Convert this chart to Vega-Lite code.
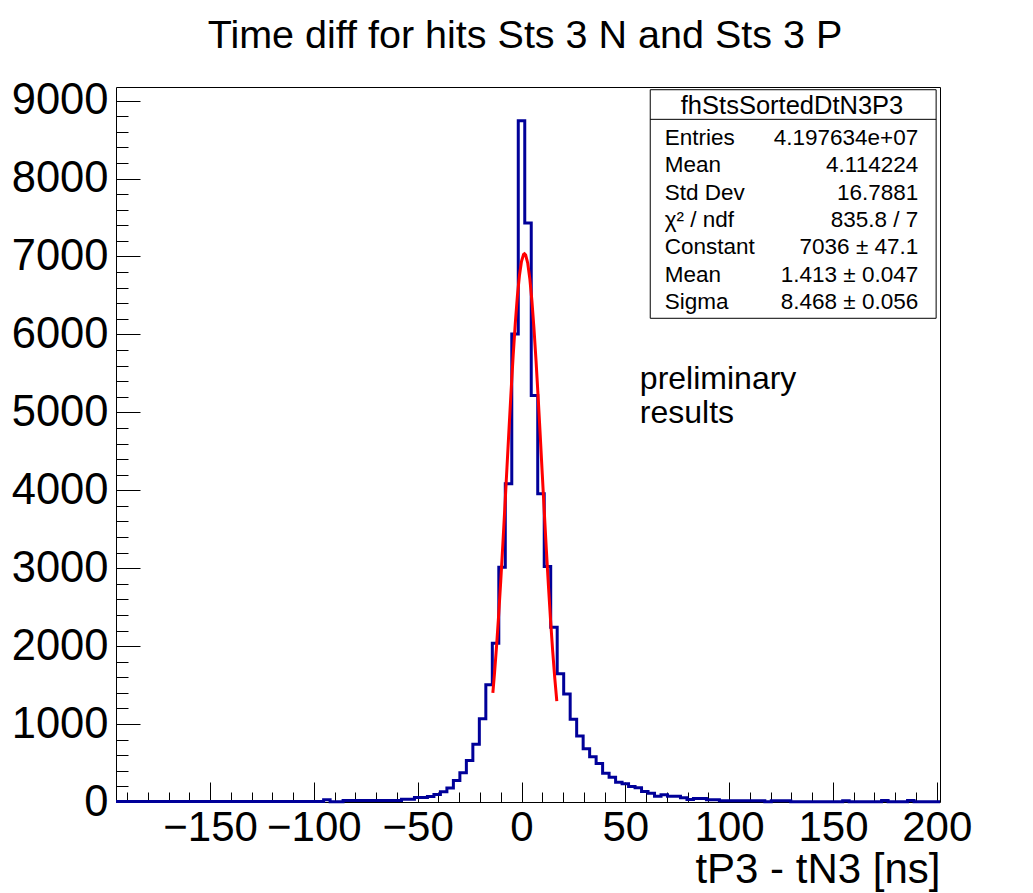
{
  "$schema": "https://vega.github.io/schema/vega-lite/v6.json",
  "width": 824,
  "height": 715,
  "autosize": {"type": "none"},
  "padding": {"left": 116, "top": 87, "right": 93, "bottom": 91},
  "background": "white",
  "config": {
    "view": {"stroke": "black", "strokeWidth": 1},
    "font": "Liberation Sans",
    "axis": {"tickColor": "black", "tickWidth": 1, "labelColor": "black", "labelFont": "Liberation Sans", "domain": false, "grid": false, "labelFlush": false, "labelOverlap": false, "labelBound": false, "titleColor": "black", "titleFont": "Liberation Sans", "titleFontWeight": "normal"},
    "text": {"font": "Liberation Sans", "color": "black"}
  },
  "title": {"text": "Time diff for hits Sts 3 N and Sts 3 P", "fontSize": 39.5, "fontWeight": "normal", "font": "Liberation Sans", "color": "black", "anchor": "middle", "baseline": "alphabetic", "offset": -9, "dx": -3, "frame": "group"},
  "datasets": {
    "hist": [
      {"t": -195.3125, "n": 5}, {"t": -192.1875, "n": 5}, {"t": -189.0625, "n": 5}, {"t": -185.9375, "n": 5},
      {"t": -182.8125, "n": 5}, {"t": -179.6875, "n": 5}, {"t": -176.5625, "n": 5}, {"t": -173.4375, "n": 5},
      {"t": -170.3125, "n": 5}, {"t": -167.1875, "n": 5}, {"t": -164.0625, "n": 5}, {"t": -160.9375, "n": 5},
      {"t": -157.8125, "n": 5}, {"t": -154.6875, "n": 5}, {"t": -151.5625, "n": 5}, {"t": -148.4375, "n": 5},
      {"t": -145.3125, "n": 5}, {"t": -142.1875, "n": 5}, {"t": -139.0625, "n": 5}, {"t": -135.9375, "n": 5},
      {"t": -132.8125, "n": 5}, {"t": -129.6875, "n": 5}, {"t": -126.5625, "n": 5}, {"t": -123.4375, "n": 5},
      {"t": -120.3125, "n": 5}, {"t": -117.1875, "n": 5}, {"t": -114.0625, "n": 5}, {"t": -110.9375, "n": 5},
      {"t": -107.8125, "n": 6}, {"t": -104.6875, "n": 6}, {"t": -101.5625, "n": 6}, {"t": -98.4375, "n": 6},
      {"t": -95.3125, "n": 28}, {"t": -92.1875, "n": 3}, {"t": -89.0625, "n": 3}, {"t": -85.9375, "n": 19},
      {"t": -82.8125, "n": 19}, {"t": -79.6875, "n": 19}, {"t": -76.5625, "n": 19}, {"t": -73.4375, "n": 19},
      {"t": -70.3125, "n": 19}, {"t": -67.1875, "n": 19}, {"t": -64.0625, "n": 19}, {"t": -60.9375, "n": 19},
      {"t": -57.8125, "n": 36}, {"t": -54.6875, "n": 36}, {"t": -51.5625, "n": 58}, {"t": -48.4375, "n": 58},
      {"t": -45.3125, "n": 71}, {"t": -42.1875, "n": 96}, {"t": -39.0625, "n": 132}, {"t": -35.9375, "n": 181},
      {"t": -32.8125, "n": 276}, {"t": -29.6875, "n": 375}, {"t": -26.5625, "n": 532}, {"t": -23.4375, "n": 742},
      {"t": -20.3125, "n": 1067}, {"t": -17.1875, "n": 1504}, {"t": -14.0625, "n": 2037}, {"t": -10.9375, "n": 3013},
      {"t": -7.8125, "n": 4083}, {"t": -4.6875, "n": 6007}, {"t": -1.5625, "n": 8743}, {"t": 1.5625, "n": 7431},
      {"t": 4.6875, "n": 5216}, {"t": 7.8125, "n": 3954}, {"t": 10.9375, "n": 3021}, {"t": 14.0625, "n": 2243},
      {"t": 17.1875, "n": 1645}, {"t": 20.3125, "n": 1385}, {"t": 23.4375, "n": 1062}, {"t": 26.5625, "n": 848},
      {"t": 29.6875, "n": 682}, {"t": 32.8125, "n": 580}, {"t": 35.9375, "n": 494}, {"t": 39.0625, "n": 370},
      {"t": 42.1875, "n": 318}, {"t": 45.3125, "n": 254}, {"t": 48.4375, "n": 233}, {"t": 51.5625, "n": 199},
      {"t": 54.6875, "n": 182}, {"t": 57.8125, "n": 135}, {"t": 60.9375, "n": 113}, {"t": 64.0625, "n": 74},
      {"t": 67.1875, "n": 92}, {"t": 70.3125, "n": 74}, {"t": 73.4375, "n": 74}, {"t": 76.5625, "n": 54},
      {"t": 79.6875, "n": 32}, {"t": 82.8125, "n": 45}, {"t": 85.9375, "n": 45}, {"t": 89.0625, "n": 28},
      {"t": 92.1875, "n": 28}, {"t": 95.3125, "n": 15}, {"t": 98.4375, "n": 15}, {"t": 101.5625, "n": 15},
      {"t": 104.6875, "n": 15}, {"t": 107.8125, "n": 15}, {"t": 110.9375, "n": 15}, {"t": 114.0625, "n": 15},
      {"t": 117.1875, "n": 3}, {"t": 120.3125, "n": 15}, {"t": 123.4375, "n": 15}, {"t": 126.5625, "n": 15},
      {"t": 129.6875, "n": 3}, {"t": 132.8125, "n": 3}, {"t": 135.9375, "n": 3}, {"t": 139.0625, "n": 3},
      {"t": 142.1875, "n": 3}, {"t": 145.3125, "n": 3}, {"t": 148.4375, "n": 3}, {"t": 151.5625, "n": 3},
      {"t": 154.6875, "n": 15}, {"t": 157.8125, "n": 3}, {"t": 160.9375, "n": 3}, {"t": 164.0625, "n": 3},
      {"t": 167.1875, "n": 3}, {"t": 170.3125, "n": 3}, {"t": 173.4375, "n": 19}, {"t": 176.5625, "n": 3},
      {"t": 179.6875, "n": 3}, {"t": 182.8125, "n": 3}, {"t": 185.9375, "n": 19}, {"t": 189.0625, "n": 3},
      {"t": 192.1875, "n": 3}, {"t": 195.3125, "n": 3}, {"t": 198.4375, "n": 3}, {"t": 201.5625, "n": 3}
    ],
    "fit": [
      {"t": -13.8, "f": 1401}, {"t": -13, "f": 1653}, {"t": -12, "f": 2007}, {"t": -11, "f": 2403},
      {"t": -10, "f": 2837}, {"t": -9, "f": 3303}, {"t": -8, "f": 3793}, {"t": -7, "f": 4296},
      {"t": -6, "f": 4797}, {"t": -5, "f": 5282}, {"t": -4, "f": 5736}, {"t": -3, "f": 6142},
      {"t": -2, "f": 6487}, {"t": -1, "f": 6756}, {"t": 0, "f": 6939}, {"t": 1, "f": 7028},
      {"t": 1.413, "f": 7036}, {"t": 2, "f": 7019}, {"t": 3, "f": 6914}, {"t": 4, "f": 6715},
      {"t": 5, "f": 6432}, {"t": 6, "f": 6076}, {"t": 7, "f": 5660}, {"t": 8, "f": 5199},
      {"t": 9, "f": 4710}, {"t": 10, "f": 4208}, {"t": 11, "f": 3707}, {"t": 12, "f": 3220},
      {"t": 13, "f": 2759}, {"t": 14, "f": 2331}, {"t": 15, "f": 1942}, {"t": 16, "f": 1596},
      {"t": 17, "f": 1293}
    ],
    "stats": [
      {"row": 1, "name": "Entries", "value": "4.197634e+07"},
      {"row": 2, "name": "Mean", "value": "4.114224"},
      {"row": 3, "name": "Std Dev", "value": "16.7881"},
      {"row": 4, "name": "χ² / ndf", "value": "835.8 / 7"},
      {"row": 5, "name": "Constant", "value": "7036 ± 47.1"},
      {"row": 6, "name": "Mean", "value": "1.413 ± 0.047"},
      {"row": 7, "name": "Sigma", "value": "8.468 ± 0.056"}
    ]
  },
  "resolve": {"scale": {"y": "independent"}, "axis": {"x": "independent", "y": "independent"}},
  "layer": [
    {
      "resolve": {"axis": {"x": "independent", "y": "independent"}},
      "layer": [
        {
          "data": {"name": "hist"},
          "mark": {"type": "line", "interpolate": "step-after", "color": "#000099", "strokeWidth": 3},
          "encoding": {
            "x": {"field": "t", "type": "quantitative", "scale": {"domain": [-195.3125, 201.5625], "nice": false, "zero": false},
              "axis": {"orient": "bottom", "values": [-150, -100, -50, 0, 50, 100, 150, 200], "format": "d", "tickSize": -20, "labelPadding": 25, "labelFontSize": 42,
                "title": "tP3 - tN3 [ns]", "titleFontSize": 42, "titleAnchor": "end", "titleAlign": "right", "titleBaseline": "alphabetic", "titleX": 824, "titleY": 80}},
            "y": {"field": "n", "type": "quantitative", "scale": {"domain": [0, 9175], "nice": false, "zero": true},
              "axis": {"orient": "left", "values": [0, 1000, 2000, 3000, 4000, 5000, 6000, 7000, 8000, 9000], "format": "d", "tickSize": -24, "labelPadding": 32, "labelFontSize": 43.5, "title": null}}
          }
        },
        {
          "data": {"name": "fit"},
          "mark": {"type": "line", "color": "#ff0000", "strokeWidth": 3},
          "encoding": {
            "x": {"field": "t", "type": "quantitative", "scale": {"domain": [-195.3125, 201.5625], "nice": false, "zero": false},
              "axis": {"orient": "bottom", "values": [-190, -180, -170, -160, -150, -140, -130, -120, -110, -100, -90, -80, -70, -60, -50, -40, -30, -20, -10, 0, 10, 20, 30, 40, 50, 60, 70, 80, 90, 100, 110, 120, 130, 140, 150, 160, 170, 180, 190, 200], "tickSize": -10, "labels": false, "title": null}},
            "y": {"field": "f", "type": "quantitative", "scale": {"domain": [0, 9175], "nice": false, "zero": true},
              "axis": {"orient": "left", "values": [200, 400, 600, 800, 1000, 1200, 1400, 1600, 1800, 2000, 2200, 2400, 2600, 2800, 3000, 3200, 3400, 3600, 3800, 4000, 4200, 4400, 4600, 4800, 5000, 5200, 5400, 5600, 5800, 6000, 6200, 6400, 6600, 6800, 7000, 7200, 7400, 7600, 7800, 8000, 8200, 8400, 8600, 8800, 9000], "tickSize": -12, "labels": false, "title": null}}
          }
        },
        {
          "data": {"values": [{}]},
          "mark": {"type": "rect", "fill": "white", "stroke": "black", "strokeWidth": 1},
          "encoding": {
            "x": {"datum": 62, "type": "quantitative", "scale": {"domain": [-195.3125, 201.5625], "nice": false, "zero": false}, "axis": null},
            "x2": {"datum": 199.7},
            "y": {"datum": 9140, "type": "quantitative", "scale": {"domain": [0, 9175], "nice": false, "zero": true}, "axis": null},
            "y2": {"datum": 6207}
          }
        },
        {
          "data": {"values": [{}]},
          "mark": {"type": "rule", "color": "black", "strokeWidth": 1},
          "encoding": {
            "x": {"datum": 62, "type": "quantitative", "scale": {"domain": [-195.3125, 201.5625], "nice": false, "zero": false}, "axis": null},
            "x2": {"datum": 199.7},
            "y": {"datum": 8760, "type": "quantitative", "scale": {"domain": [0, 9175], "nice": false, "zero": true}, "axis": null}
          }
        },
        {
          "data": {"values": [{}]},
          "mark": {"type": "text", "text": "fhStsSortedDtN3P3", "fontSize": 25.5, "align": "center", "baseline": "middle"},
          "encoding": {
            "x": {"datum": 130.3, "type": "quantitative", "scale": {"domain": [-195.3125, 201.5625], "nice": false, "zero": false}, "axis": null},
            "y": {"datum": 8935, "type": "quantitative", "scale": {"domain": [0, 9175], "nice": false, "zero": true}, "axis": null}
          }
        },
        {
          "data": {"values": [{}]},
          "mark": {"type": "text", "text": ["preliminary", "results"], "fontSize": 32, "lineHeight": 34, "align": "left", "baseline": "alphabetic"},
          "encoding": {
            "x": {"datum": 57, "type": "quantitative", "scale": {"domain": [-195.3125, 201.5625], "nice": false, "zero": false}, "axis": null},
            "y": {"datum": 5300, "type": "quantitative", "scale": {"domain": [0, 9175], "nice": false, "zero": true}, "axis": null}
          }
        }
      ]
    },
    {
      "data": {"name": "stats"},
      "encoding": {
        "y": {"field": "row", "type": "ordinal", "scale": {"type": "point", "domain": [1, 2, 3, 4, 5, 6, 7], "range": [51, 215], "padding": 0}, "axis": null}
      },
      "layer": [
        {
          "mark": {"type": "text", "align": "left", "baseline": "middle", "fontSize": 22.5},
          "encoding": {
            "x": {"datum": 69, "type": "quantitative", "scale": {"domain": [-195.3125, 201.5625], "nice": false, "zero": false}, "axis": null},
            "text": {"field": "name", "type": "nominal"}
          }
        },
        {
          "mark": {"type": "text", "align": "right", "baseline": "middle", "fontSize": 22.5},
          "encoding": {
            "x": {"datum": 191.1, "type": "quantitative", "scale": {"domain": [-195.3125, 201.5625], "nice": false, "zero": false}, "axis": null},
            "text": {"field": "value", "type": "nominal"}
          }
        }
      ]
    }
  ]
}
